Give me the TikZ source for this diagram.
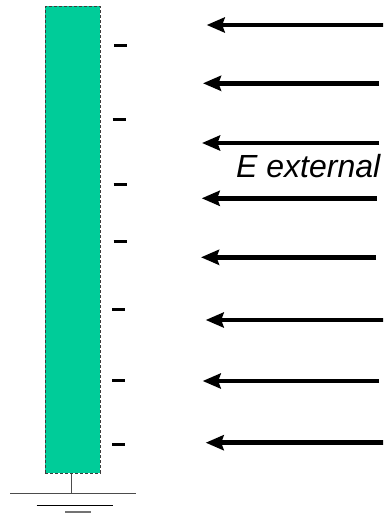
\documentclass[tikz,border=0pt]{standalone}
\usepackage{fontspec}
\setmainfont{Liberation Sans}
\usetikzlibrary{arrows.meta}
\definecolor{plate}{RGB}{0,204,153}
\definecolor{edge}{RGB}{60,60,60}
\begin{document}
\begin{tikzpicture}[x=1pt,y=-1pt,
  field/.style={line width=4.6pt,-{Stealth[length=18pt,width=15pt,inset=2.5pt]}},
  charge/.style={line width=3pt},
  gnd/.style={line width=1pt,black!70}]
\useasboundingbox (0,0) rectangle (383,513);
\begin{scope}
\clip (0,0) rectangle (383,513);
% plate
\node (plate) [draw=edge, dashed, dash pattern=on 3pt off 2pt, line width=0.9pt, fill=plate,
  minimum width=55pt, minimum height=466.7pt, inner sep=0pt, anchor=north west] at (45,6) {};
% ground
\coordinate (g0) at (71.3,493.7);
\draw[gnd] (plate.south -| g0) -- (g0);
\coordinate (g1a) at (10,493.7); \coordinate (g1b) at (136,493.7);
\coordinate (g2a) at (36.7,505.3); \coordinate (g2b) at (112.7,505.3);
\coordinate (g3a) at (65,511.7); \coordinate (g3b) at (91,511.7);
\draw[gnd] (g1a) -- (g1b);
\draw[gnd,black] (g2a) -- (g2b);
\draw[gnd,line width=1.6pt,black!55] (g3a) -- (g3b);
% charges
\foreach \i/\xa/\y in {1/114/45.7, 2/112.5/119.3, 3/113.5/184, 4/113.5/241, 5/112/309, 6/112/380, 7/112/444}{
  \coordinate (ca\i) at (\xa,\y);
  \coordinate (cb\i) at (\xa+13,\y);
  \draw[charge] (ca\i) -- (cb\i);
}
% field arrows
\foreach \i/\xt/\y/\xs in {1/206.7/25/392, 2/203/83.3/379, 3/202/143/379, 4/201.7/198.3/376.7,
  5/201/257.3/376, 6/205.7/320/392, 7/202.7/381/379, 8/205.7/442.7/392}{
  \coordinate (ft\i) at (\xt,\y);
  \coordinate (fs\i) at (\xs,\y);
  \draw[field] (fs\i) -- (ft\i);
}
% label
\node (lab) [anchor=base west, inner sep=0pt, font=\fontsize{32}{32}\selectfont\itshape] at (236,177.5) {E external};
\end{scope}
\end{tikzpicture}
\end{document}
